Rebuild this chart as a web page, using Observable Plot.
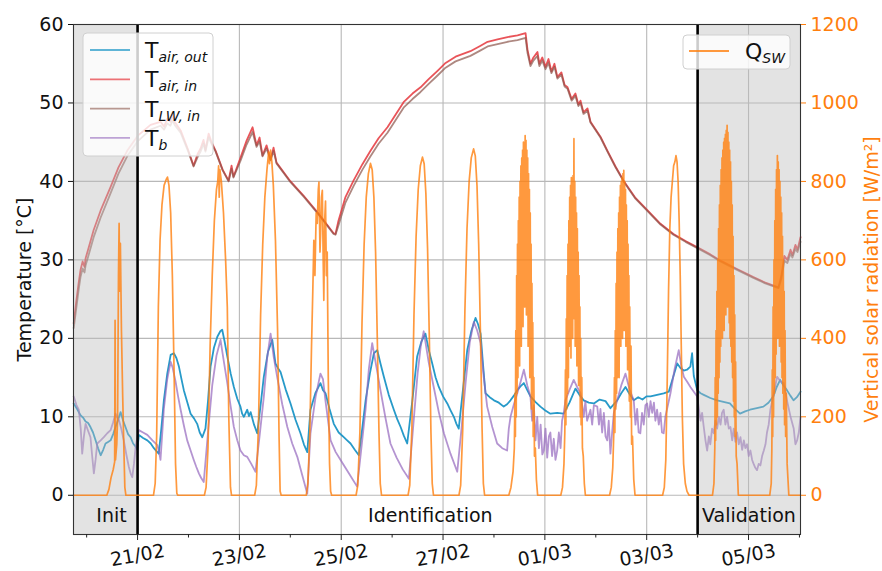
<!DOCTYPE html>
<html><head><meta charset="utf-8">
<script src="https://cdn.jsdelivr.net/npm/d3@7"></script>
<script src="https://cdn.jsdelivr.net/npm/@observablehq/plot@0.6"></script>
<style>body{margin:0;background:#fff;} #chart svg{display:block;}</style>
</head><body><div id="chart"></div>
<script>
// time values are hours since 19/02/2019 00:00 (UTC)
const START = Date.UTC(2019, 1, 19);
const toDate = h => new Date(START + h * 3600e3);

const tAirIn = [[17.9,21.9],[19.0,24.5],[20.2,27.0],[21.1,28.7],[22.1,29.8],[23.0,29.1],[23.5,30.2],[24.9,31.5],[27.3,33.8],[30.6,36.3],[35.3,39.3],[39.0,41.8],[43.1,43.9],[48.0,45.8],[54.1,47.2],[58.8,47.6],[60.5,47.0],[62.0,48.0],[63.5,47.6],[64.5,48.4],[65.5,47.6],[68.3,46.5],[71.6,44.2],[74.4,42.0],[76.3,43.5],[77.7,44.2],[79.1,45.3],[80.0,44.0],[81.5,46.1],[82.9,45.0],[84.8,43.9],[88.1,41.5],[90.9,40.1],[92.3,42.0],[93.2,40.6],[96.5,43.0],[99.4,45.2],[102.2,46.9],[104.1,44.6],[105.5,45.6],[106.9,43.3],[108.8,44.6],[110.7,42.8],[112.1,44.3],[113.5,42.4],[120.1,40.0],[126.2,38.2],[133.3,35.9],[140.4,33.4],[141.3,33.3],[142.7,35.0],[146.0,38.0],[149.8,40.1],[154.0,42.2],[157.8,43.9],[161.6,45.5],[165.8,46.9],[169.6,48.5],[173.4,50.1],[177.6,51.2],[181.4,52.0],[185.1,53.0],[189.4,54.1],[193.2,55.1],[197.9,55.9],[204.9,56.6],[209.7,57.3],[213.0,57.8],[217.7,58.1],[222.4,58.4],[227.1,58.6],[230.9,58.9],[231.8,56.8],[233.2,55.0],[234.6,55.8],[236.5,56.5],[237.4,55.0],[238.8,55.8],[240.3,54.6],[241.7,55.6],[243.1,54.0],[244.5,55.0],[245.9,53.3],[247.8,53.9],[249.3,52.3],[250.7,52.0],[252.6,50.5],[254.4,51.2],[255.8,49.8],[256.8,50.3],[258.2,48.8],[260.1,49.3],[261.5,47.6],[266.2,45.7],[269.5,43.9],[273.3,41.9],[277.1,40.1],[282.7,37.9],[288.4,36.3],[294.5,34.6],[300.6,33.3],[306.3,32.4],[311.9,31.6],[318.0,30.7],[322.8,29.9],[330.8,28.8],[338.3,27.8],[343.9,27.1],[350.1,26.5],[351.5,28.0],[352.9,30.5],[354.3,30.0],[355.8,31.3],[356.7,30.6],[358.1,31.9],[359.1,31.3],[360.5,32.9]];

const tLWin = [[17.9,21.3],[19.0,23.6],[20.2,26.1],[21.1,27.8],[22.1,28.9],[23.0,28.4],[23.5,29.3],[24.9,30.6],[27.3,32.9],[30.6,35.4],[35.3,38.5],[39.0,41.0],[43.1,43.2],[48.0,45.1],[54.1,46.6],[58.8,47.1],[60.5,46.6],[62.0,47.4],[63.5,47.1],[64.5,47.8],[65.5,47.2],[68.3,46.2],[71.6,44.0],[74.4,41.9],[76.3,43.1],[77.7,43.8],[79.1,44.8],[80.0,43.8],[81.5,45.6],[82.9,44.8],[84.8,43.8],[88.1,41.4],[90.9,40.0],[92.3,41.6],[93.2,40.5],[96.5,42.6],[99.4,44.7],[102.2,46.3],[104.1,44.4],[105.5,45.1],[106.9,43.2],[108.8,44.2],[110.7,42.7],[112.1,43.9],[113.5,42.3],[120.1,39.9],[126.2,38.1],[133.3,35.8],[140.4,33.3],[141.3,33.2],[142.7,34.4],[146.0,37.3],[149.8,39.4],[154.0,41.5],[157.8,43.2],[161.6,44.8],[165.8,46.2],[169.6,47.8],[173.4,49.4],[177.6,50.5],[181.4,51.4],[185.1,52.4],[189.4,53.5],[193.2,54.5],[197.9,55.3],[204.9,56.0],[209.7,56.7],[213.0,57.2],[217.7,57.5],[222.4,57.8],[227.1,58.0],[230.9,58.3],[231.8,56.4],[233.2,54.7],[234.6,55.4],[236.5,56.0],[237.4,54.7],[238.8,55.4],[240.3,54.3],[241.7,55.1],[243.1,53.8],[244.5,54.6],[245.9,53.1],[247.8,53.6],[249.3,52.1],[250.7,51.8],[252.6,50.3],[254.4,50.9],[255.8,49.6],[256.8,50.0],[258.2,48.6],[260.1,49.0],[261.5,47.5],[266.2,45.6],[269.5,43.8],[273.3,41.8],[277.1,40.0],[282.7,37.8],[288.4,36.2],[294.5,34.5],[300.6,33.2],[306.3,32.3],[311.9,31.5],[318.0,30.6],[322.8,29.8],[330.8,28.7],[338.3,27.7],[343.9,27.0],[350.1,26.4],[351.5,27.6],[352.9,29.9],[354.3,29.6],[355.8,30.8],[356.7,30.3],[358.1,31.4],[359.1,31.0],[360.5,32.3]];

const tAirOut = [[17.9,11.7],[19.5,11.0],[21.1,10.2],[22.3,9.9],[23.5,9.4],[24.7,9.2],[25.8,8.7],[27.0,8.0],[28.2,7.0],[29.4,6.0],[30.6,5.1],[31.8,5.8],[32.9,6.6],[34.1,6.8],[35.3,7.0],[36.5,7.8],[37.6,8.7],[38.8,9.6],[40.0,10.6],[41.2,9.5],[42.3,8.7],[43.5,7.8],[44.7,7.4],[45.9,6.6],[47.1,6.2],[47.9,5.8],[48.6,7.7],[50.6,7.3],[52.6,7.0],[54.2,6.6],[55.7,6.0],[57.0,5.6],[58.0,5.3],[59.2,8.5],[60.4,12.1],[62.0,15.5],[63.6,17.9],[65.1,18.1],[66.3,17.5],[67.5,16.4],[68.7,14.8],[69.8,13.4],[71.4,11.9],[73.0,10.4],[74.6,9.8],[76.1,9.1],[77.3,8.0],[78.5,7.4],[80.0,8.5],[81.2,12.0],[82.4,16.4],[84.0,18.8],[85.6,20.2],[87.0,20.9],[87.9,21.1],[89.1,19.5],[90.3,17.7],[91.9,15.5],[93.4,13.8],[95.0,12.3],[96.5,11.3],[97.3,10.4],[98.1,10.0],[99.7,10.9],[100.5,10.1],[101.3,10.6],[102.9,9.0],[104.4,7.9],[106.0,11.5],[107.5,15.1],[109.5,18.3],[111.5,19.8],[113.0,16.8],[114.2,16.2],[115.4,15.7],[117.8,13.5],[120.1,11.7],[122.5,9.6],[124.8,7.9],[126.4,6.5],[128.0,5.5],[129.5,10.9],[131.8,13.0],[134.2,14.3],[135.4,13.4],[136.6,13.0],[138.5,11.0],[140.5,9.1],[142.8,8.0],[145.2,7.4],[146.8,7.0],[148.4,6.6],[150.4,5.8],[152.3,5.1],[153.9,8.5],[155.5,12.1],[157.5,15.5],[159.4,18.1],[161.0,18.5],[162.5,16.8],[164.1,15.1],[166.4,12.8],[168.8,10.9],[170.4,9.7],[172.0,8.7],[173.5,7.6],[175.1,6.6],[177.5,12.0],[179.8,17.7],[181.8,19.6],[183.7,20.6],[185.3,18.5],[186.9,16.8],[188.5,15.0],[190.0,13.8],[192.0,12.6],[194.0,11.7],[195.6,10.8],[197.1,10.0],[198.3,9.1],[199.4,8.5],[201.4,13.5],[203.4,18.5],[205.4,21.0],[207.3,22.6],[208.5,21.8],[209.7,20.6],[210.9,16.5],[212.0,13.0],[214.0,12.5],[216.0,12.1],[218.3,11.8],[220.6,11.3],[222.2,11.6],[223.8,12.1],[225.4,12.7],[227.0,13.4],[228.6,13.9],[230.1,14.3],[231.7,13.4],[233.2,12.6],[235.5,11.9],[237.9,11.3],[240.2,10.8],[242.6,10.4],[245.8,10.5],[248.9,10.4],[251.6,11.8],[254.4,13.6],[256.3,12.8],[258.3,12.1],[260.7,11.8],[263.1,11.7],[265.8,12.2],[268.6,12.0],[270.9,11.1],[272.5,11.6],[274.1,12.1],[276.0,13.0],[278.0,13.8],[279.9,12.9],[281.9,12.1],[284.0,12.5],[286.0,12.2],[287.9,12.6],[289.8,12.6],[292.9,12.8],[296.0,13.0],[298.4,13.2],[300.4,15.0],[302.4,16.8],[304.0,16.2],[305.5,15.9],[307.0,16.0],[308.6,16.4],[309.4,18.1],[310.2,15.2],[311.8,13.4],[313.4,13.0],[314.9,12.8],[318.0,12.4],[321.2,12.1],[324.2,11.9],[327.2,11.7],[329.6,11.0],[332.0,10.4],[334.4,10.7],[336.7,10.9],[339.9,11.1],[343.0,11.3],[345.4,11.8],[347.7,12.6],[349.3,13.8],[350.9,14.7],[352.5,14.0],[354.1,13.4],[355.7,12.7],[357.2,12.1],[358.8,12.5],[360.5,13.2]];

const tB = [[17.9,12.6],[19.2,11.5],[20.3,10.9],[21.2,8.5],[21.9,5.3],[22.7,7.5],[23.5,9.1],[24.7,8.2],[25.8,7.4],[26.6,5.0],[27.4,2.8],[28.2,4.5],[29.0,6.6],[30.6,7.0],[32.1,7.4],[33.7,7.9],[35.3,8.3],[36.5,9.3],[37.6,10.4],[38.4,9.9],[39.2,9.6],[40.3,8.5],[41.5,7.0],[42.7,5.2],[43.9,3.6],[44.7,2.8],[45.5,2.3],[46.3,4.0],[47.1,6.2],[47.8,7.2],[48.6,8.3],[50.6,8.0],[52.6,7.7],[55.0,7.0],[57.3,6.4],[58.1,5.6],[58.8,4.5],[60.4,11.0],[62.0,14.8],[63.6,17.0],[64.5,16.3],[65.9,14.5],[67.1,12.6],[68.3,10.9],[69.9,8.8],[71.4,7.0],[73.0,5.7],[74.5,4.5],[75.7,3.6],[76.9,2.8],[78.0,2.2],[79.2,1.7],[81.2,8.0],[83.2,14.0],[85.2,17.8],[87.1,19.8],[88.7,17.0],[90.3,14.3],[91.9,11.3],[93.4,8.7],[95.0,7.0],[96.5,5.7],[98.1,5.1],[99.7,4.9],[101.6,4.0],[103.6,3.0],[105.5,7.5],[107.5,12.5],[109.1,17.5],[110.7,20.6],[112.2,17.6],[113.8,15.1],[116.2,11.6],[118.6,8.7],[120.9,6.6],[123.3,4.9],[125.7,2.5],[128.0,0.2],[129.5,7.9],[131.9,12.5],[134.2,15.5],[135.4,14.8],[136.6,12.0],[139.0,7.0],[141.4,5.5],[143.7,4.5],[147.6,2.8],[151.5,1.1],[153.5,6.0],[155.5,11.0],[157.0,16.0],[158.6,19.4],[160.5,16.5],[162.5,13.4],[164.9,9.8],[167.2,6.6],[170.1,4.8],[173.0,3.3],[175.9,2.1],[178.0,9.0],[180.0,15.5],[181.5,19.0],[182.9,20.9],[185.2,17.0],[187.6,13.8],[190.0,10.6],[192.4,7.9],[195.5,5.3],[198.7,3.0],[200.7,8.5],[202.7,14.5],[204.6,19.5],[206.5,22.1],[208.1,21.0],[209.7,19.4],[211.2,15.0],[212.8,11.3],[215.2,8.7],[217.5,6.6],[219.9,6.0],[222.2,5.7],[223.0,8.5],[223.8,10.0],[225.4,11.6],[227.0,13.0],[228.6,14.5],[230.1,16.0],[231.7,14.0],[233.2,12.6],[234.0,9.5],[234.8,11.5],[235.6,7.0],[236.4,10.0],[237.2,6.0],[238.0,9.0],[238.8,5.2],[239.5,5.7],[240.3,8.5],[241.1,4.8],[241.9,7.5],[242.6,8.0],[243.4,5.0],[244.2,7.2],[245.0,4.5],[245.8,5.7],[246.6,8.0],[247.4,6.0],[248.1,9.5],[248.9,10.5],[249.7,12.1],[251.7,13.5],[253.6,14.7],[255.2,13.8],[256.8,13.0],[257.6,11.5],[258.3,10.0],[259.1,12.0],[259.9,9.5],[261.5,10.9],[262.3,9.0],[263.1,11.5],[264.7,11.3],[265.5,9.0],[266.2,11.0],[267.0,8.0],[267.8,10.5],[268.6,7.5],[269.4,7.0],[270.1,9.5],[270.9,5.3],[271.7,8.0],[272.5,10.5],[274.1,12.1],[276.0,14.0],[278.0,15.5],[279.9,13.5],[281.9,12.1],[282.7,9.0],[283.5,11.0],[284.2,8.0],[285.0,7.9],[285.8,10.5],[286.6,9.0],[287.4,11.5],[288.2,11.7],[289.0,10.0],[289.8,12.0],[290.6,10.5],[291.4,11.8],[292.1,9.5],[292.9,10.9],[293.7,9.0],[294.5,10.5],[295.2,8.0],[296.0,7.9],[296.8,10.0],[297.6,11.0],[299.2,13.0],[301.1,16.0],[303.1,18.5],[304.3,16.5],[305.5,15.1],[307.0,14.5],[308.6,13.8],[310.2,13.2],[311.8,12.6],[312.6,11.0],[313.4,9.5],[314.1,10.5],[314.9,8.7],[315.7,7.0],[316.5,5.7],[317.3,7.5],[318.0,6.5],[318.8,8.5],[319.6,7.9],[320.4,9.5],[321.2,8.5],[322.0,10.0],[322.8,9.0],[323.5,10.5],[324.3,10.9],[325.1,9.0],[325.9,10.0],[326.7,8.5],[327.5,8.7],[328.3,7.0],[329.0,8.5],[329.8,6.8],[330.6,8.0],[331.4,6.5],[332.2,7.4],[333.0,5.8],[333.8,7.0],[334.5,6.0],[335.3,6.5],[336.1,5.0],[336.9,5.7],[337.7,4.5],[338.4,4.0],[339.2,3.5],[340.0,3.2],[340.8,4.0],[341.6,3.8],[342.4,5.0],[343.2,5.7],[344.0,6.5],[344.7,8.0],[345.5,9.0],[346.3,10.9],[347.9,13.0],[349.5,15.1],[351.1,14.5],[352.6,14.3],[354.2,12.0],[355.8,10.0],[357.3,8.5],[358.1,6.5],[358.9,7.0],[359.7,8.0],[360.5,10.0]];

// vertical short-wave solar radiation, W/m²
const qSW = [[17.8,0],[33.5,0],[34.5,15],[35.5,45],[36.5,65],[37.2,85],[37.4,446],[37.6,90],[38.2,130],[38.6,200],[39.0,560],[39.3,693],[39.6,520],[39.9,642],[40.4,420],[41.0,250],[41.5,130],[42.0,20],[42.5,0],
[55.5,0],[56.3,30],[57.0,150],[57.8,480],[58.6,650],[59.5,740],[60.5,790],[61.5,805],[62.1,811],[62.8,790],[63.6,720],[64.4,560],[65.2,320],[65.9,80],[66.5,5],[67.0,0],
[79.5,0],[80.3,20],[81.2,120],[82.2,380],[83.2,560],[84.2,700],[85.2,780],[85.8,800],[86.2,840],[86.5,760],[86.8,830],[87.5,800],[88.5,720],[89.5,600],[90.3,480],[91.0,200],[91.8,20],[92.3,0],
[103.2,0],[104.0,25],[105.0,180],[106.0,460],[107.0,640],[108.0,760],[109.0,830],[109.8,875],[110.2,845],[110.7,880],[111.3,850],[112.0,790],[113.0,650],[114.0,420],[114.7,150],[115.2,10],[115.7,0],
[127.5,0],[128.3,30],[129.2,160],[130.0,380],[130.6,520],[131.1,650],[131.6,560],[132.2,720],[132.7,693],[133.2,780],[133.5,798],[134.0,620],[134.3,667],[134.7,760],[135.1,777],[135.5,600],[135.8,497],[136.2,700],[136.6,750],[137.0,560],[137.4,620],[137.9,300],[138.5,80],[139.0,10],[139.5,0],
[151.0,0],[151.8,25],[152.8,160],[153.8,440],[154.8,640],[155.8,760],[156.8,820],[157.8,846],[158.6,830],[159.4,760],[160.2,620],[161.0,400],[161.8,160],[162.4,30],[163.0,0],
[175.5,0],[176.3,25],[177.3,170],[178.3,460],[179.3,660],[180.3,780],[181.3,840],[182.3,862],[183.1,845],[183.9,770],[184.7,630],[185.5,410],[186.3,160],[186.9,30],[187.5,0],
[199.5,0],[200.3,25],[201.3,170],[202.3,470],[203.3,680],[204.3,800],[205.3,860],[206.4,883],[207.2,865],[208.0,790],[208.8,640],[209.6,420],[210.4,170],[211.0,30],[211.6,0],
[223.0,0],[224.0,20],[225.0,60],[225.6,120],[225.9,260],[226.1,150],[226.3,420],[226.5,200],[226.7,560],[226.9,260],[227.1,640],[227.3,300],[227.5,700],[227.7,380],[227.9,760],[228.1,330],[228.3,800],[228.5,450],[228.7,840],[228.9,380],[229.1,860],[229.3,520],[229.5,880],[229.7,430],[229.9,900],[230.1,560],[230.3,890],[230.5,480],[230.7,917],[230.9,600],[231.1,905],[231.3,460],[231.5,880],[231.7,520],[231.9,860],[232.1,380],[232.3,820],[232.5,440],[232.7,780],[232.9,300],[233.1,720],[233.3,350],[233.5,640],[233.7,220],[233.9,540],[234.1,260],[234.3,440],[234.5,150],[234.8,300],[235.1,100],[235.5,120],[236.0,40],[236.6,0],
[247.5,0],[248.3,20],[249.0,80],[249.4,160],[249.7,320],[249.9,180],[250.1,450],[250.3,220],[250.5,560],[250.7,260],[250.9,640],[251.1,300],[251.3,700],[251.5,380],[251.7,760],[251.9,420],[252.1,790],[252.3,350],[252.5,810],[252.7,480],[252.9,800],[253.1,400],[253.3,815],[253.5,520],[253.7,909],[253.9,450],[254.1,800],[254.3,380],[254.5,760],[254.7,460],[254.9,720],[255.1,330],[255.3,680],[255.5,400],[255.7,620],[255.9,280],[256.1,560],[256.3,300],[256.5,480],[256.7,200],[256.9,400],[257.1,180],[257.4,300],[257.7,120],[258.1,100],[258.6,30],[259.1,0],
[270.5,0],[271.3,20],[272.0,70],[272.5,160],[272.8,300],[273.0,160],[273.2,420],[273.4,220],[273.6,540],[273.8,260],[274.0,620],[274.2,300],[274.4,680],[274.6,350],[274.8,720],[275.0,300],[275.2,760],[275.4,420],[275.6,790],[275.8,380],[276.0,800],[276.2,460],[276.4,810],[276.6,400],[276.8,820],[277.0,480],[277.2,828],[277.4,420],[277.6,800],[277.8,500],[278.0,780],[278.2,380],[278.4,740],[278.6,440],[278.8,700],[279.0,320],[279.2,640],[279.4,360],[279.6,560],[279.8,240],[280.0,480],[280.3,200],[280.6,380],[280.9,130],[281.3,150],[281.9,40],[282.5,0],
[295.5,0],[296.3,20],[297.0,90],[297.7,300],[298.3,520],[298.9,680],[299.5,760],[300.1,800],[300.7,840],[301.3,850],[301.8,866],[302.3,850],[302.8,800],[303.3,700],[303.8,560],[304.3,380],[304.8,200],[305.4,80],[306.2,30],[307.0,10],[308.0,0],
[319.0,0],[319.7,30],[320.1,120],[320.3,300],[320.5,140],[320.7,420],[320.9,180],[321.1,520],[321.3,200],[321.5,600],[321.7,260],[321.9,680],[322.1,300],[322.3,740],[322.5,340],[322.7,790],[322.9,380],[323.1,830],[323.3,420],[323.5,860],[323.7,400],[323.9,880],[324.1,460],[324.3,900],[324.5,420],[324.7,910],[324.9,500],[325.1,920],[325.3,460],[325.5,930],[325.7,520],[325.9,943],[326.1,480],[326.3,925],[326.5,500],[326.7,900],[326.9,440],[327.1,880],[327.3,400],[327.5,850],[327.7,380],[327.9,800],[328.1,340],[328.3,740],[328.5,300],[328.7,660],[328.9,240],[329.1,560],[329.3,200],[329.5,460],[329.7,150],[329.9,340],[330.2,100],[330.6,80],[331.2,0],
[346.0,0],[346.7,30],[347.0,120],[347.2,320],[347.4,150],[347.6,480],[347.8,200],[348.0,600],[348.2,260],[348.4,700],[348.6,300],[348.8,780],[349.0,360],[349.2,830],[349.4,420],[349.6,866],[349.8,400],[350.0,850],[350.2,460],[350.4,830],[350.6,380],[350.8,800],[351.0,420],[351.2,760],[351.4,340],[351.6,720],[351.8,300],[352.0,660],[352.2,260],[352.4,600],[352.6,220],[352.8,520],[353.0,180],[353.2,420],[353.5,150],[353.8,260],[354.2,80],[354.6,40],[355.0,0],[360.5,0]];

const tempTicks = [0, 10, 20, 30, 40, 50, 60];
const majorTicks = ["2019-02-21","2019-02-23","2019-02-25","2019-02-27","2019-03-01","2019-03-03","2019-03-05"];
const minorTicks = ["2019-02-20","2019-02-22","2019-02-24","2019-02-26","2019-02-28","2019-03-02","2019-03-04","2019-03-06"];
const phaseNames = ["Init", "Identification", "Validation"];
const phaseLabelHours = [35.7, 186.0, 336.2];
const shadeFrom = [17.8, 312];
const shadeTo = [48, 360.5];
const boundaries = [48, 312];
const legendMain = ["T", "T", "T", "T"];
const legendSub = ["air, out", "air, in", "LW, in", "b"];

const FONT = "DejaVu Sans";
const C_OUT = "#1b95c6", C_IN = "#e5363c", C_LW = "#8c564b", C_B = "#9467bd", C_Q = "#ff7f0e";
const rows = arr => arr.map(([h, v]) => ({t: toDate(h), v}));
const fmt = d3.utcFormat("%d/%m");
const majorDates = majorTicks.map(s => new Date(s));
const minorDates = minorTicks.map(s => new Date(s));

const plot = Plot.plot({
  width: 882, height: 571,
  marginLeft: 73, marginRight: 82, marginTop: 24, marginBottom: 37,
  x: {type: "utc", domain: [toDate(17.8), toDate(360.5)], axis: null},
  y: {domain: [-5, 60], axis: null},
  style: {fontFamily: FONT, background: "white", overflow: "visible"},
  marks: [
    Plot.gridY(tempTicks, {stroke: "#b8b8b8", strokeOpacity: 1, strokeWidth: 1.1}),
    Plot.gridX(majorDates, {stroke: "#b8b8b8", strokeOpacity: 1, strokeWidth: 1.1}),
    Plot.line(rows(tAirOut), {x: "t", y: "v", stroke: C_OUT, strokeWidth: 1.8, strokeOpacity: 0.95}),
    Plot.line(rows(tAirIn), {x: "t", y: "v", stroke: C_IN, strokeWidth: 1.8, strokeOpacity: 0.85}),
    Plot.line(rows(tLWin), {x: "t", y: "v", stroke: C_LW, strokeWidth: 1.8, strokeOpacity: 0.7}),
    Plot.line(rows(tB), {x: "t", y: "v", stroke: C_B, strokeWidth: 1.8, strokeOpacity: 0.7}),
    Plot.rect(shadeFrom.map((h, i) => ({a: toDate(h), b: toDate(shadeTo[i])})), {x1: "a", x2: "b", y1: () => -5, y2: () => 60, fill: "#bdbdbd", fillOpacity: 0.42}),
    Plot.ruleX(boundaries.map(toDate), {stroke: "black", strokeWidth: 2.6}),
    Plot.line(rows(qSW), {x: "t", y: d => d.v / 20, stroke: C_Q, strokeWidth: 1.7, strokeOpacity: 0.8}),
    Plot.text(phaseNames, {x: (d, i) => toDate(phaseLabelHours[i]), y: () => -2.6, text: d => d, fontSize: 19, fill: "#111", fontFamily: FONT}),
    Plot.frame({stroke: "#333", strokeWidth: 1.1}),
    Plot.axisY({anchor: "left", ticks: tempTicks, tickSize: 5, tickPadding: 5, color: "#111", fontSize: 19, label: null}),
    Plot.axisY({anchor: "right", ticks: tempTicks, tickSize: 5, tickPadding: 5, color: C_Q, fontSize: 19, tickFormat: d => String(d * 20), label: null}),
    Plot.axisX({anchor: "bottom", ticks: majorDates, tickSize: 6, tickFormat: () => "", color: "#222", label: null}),
    Plot.axisX({anchor: "bottom", ticks: minorDates, tickSize: 3.5, tickFormat: () => "", color: "#222", label: null}),
    Plot.text(majorDates, {x: d => d, text: d => fmt(d), frameAnchor: "bottom", dy: 21, rotate: -10, textAnchor: "middle", lineAnchor: "middle", fontSize: 19, fill: "#111", fontFamily: FONT}),
    Plot.text(["Temperature [°C]"], {frameAnchor: "left", dx: -49, rotate: -90, textAnchor: "middle", lineAnchor: "middle", fontSize: 19, fill: "#111", fontFamily: FONT}),
    Plot.text(["Vertical solar radiation [W/m²]"], {frameAnchor: "right", dx: 71, rotate: -90, textAnchor: "middle", lineAnchor: "middle", fontSize: 19, fill: C_Q, fontFamily: FONT})
  ]
});

document.getElementById("chart").appendChild(plot);

// legends
const colors = [C_OUT, C_IN, C_LW, C_B];
const opac = [0.7, 0.7, 0.6, 0.6];
const g = d3.select(plot).append("g").attr("font-family", FONT).attr("text-anchor", "start");
g.append("rect").attr("x", 83).attr("y", 33).attr("width", 130).attr("height", 123).attr("rx", 4)
  .attr("fill", "white").attr("fill-opacity", 0.8).attr("stroke", "#d0d0d0");
legendMain.forEach((m, i) => {
  const y = 50 + i * 29.3;
  g.append("line").attr("x1", 90).attr("x2", 130).attr("y1", y).attr("y2", y)
    .attr("stroke", colors[i]).attr("stroke-width", 1.8).attr("stroke-opacity", opac[i]);
  const t = g.append("text").attr("x", 145).attr("y", y + 8).attr("font-size", 22).attr("fill", "#111").attr("text-anchor", "start");
  t.append("tspan").text(m);
  t.append("tspan").attr("font-size", 14).attr("font-style", "italic").attr("dy", 4).text(legendSub[i]);
});
g.append("rect").attr("x", 683).attr("y", 35).attr("width", 107).attr("height", 34).attr("rx", 4)
  .attr("fill", "white").attr("fill-opacity", 0.8).attr("stroke", "#d0d0d0");
g.append("line").attr("x1", 689).attr("x2", 729).attr("y1", 51).attr("y2", 51)
  .attr("stroke", C_Q).attr("stroke-width", 1.8).attr("stroke-opacity", 0.8);
const tq = g.append("text").attr("x", 745).attr("y", 59).attr("font-size", 22).attr("fill", "#111").attr("text-anchor", "start");
tq.append("tspan").text("Q");
tq.append("tspan").attr("font-size", 14).attr("font-style", "italic").attr("dy", 4).text("SW");
</script>
</body></html>
